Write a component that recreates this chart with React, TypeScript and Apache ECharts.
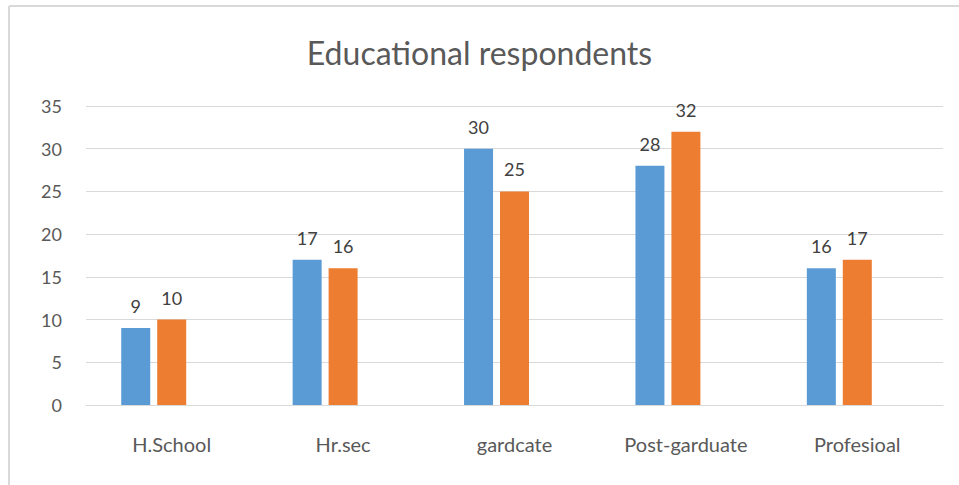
import React, { useEffect, useRef } from "react";
import * as echarts from "echarts";

const categories = ["H.School", "Hr.sec", "gardcate", "Post-garduate", "Profesioal"];
const seriesA = [9, 17, 30, 28, 16];
const seriesB = [10, 16, 25, 32, 17];
const seriesC: (number | string)[] = ["-", "-", "-", "-", "-"];
const yTicks = { min: 0, max: 35, interval: 5 };

const FONT = "Lato, 'Open Sans', sans-serif";

export default function App() {
  const ref = useRef<HTMLDivElement>(null);
  useEffect(() => {
    if (!ref.current) return;
    const chart = echarts.init(ref.current, undefined, { renderer: "svg" });
    const label = {
      show: true,
      position: "top" as const,
      distance: 13,
      color: "#404040",
      fontSize: 18,
      fontFamily: FONT,
    };
    chart.setOption({
      animation: false,
      backgroundColor: "#ffffff",
      textStyle: { fontFamily: FONT },
      title: {
        text: "Educational respondents",
        left: "center",
        top: 31,
        textStyle: { fontSize: 32, fontWeight: "normal", color: "#595959", fontFamily: FONT },
      },
      graphic: [
        {
          type: "line",
          shape: { x1: 9, y1: 6, x2: 959, y2: 6 },
          style: { stroke: "#d9d9d9", lineWidth: 2 },
        },
        {
          type: "line",
          shape: { x1: 9, y1: 6, x2: 9, y2: 485 },
          style: { stroke: "#d9d9d9", lineWidth: 2 },
        },
      ],
      grid: { left: 86, right: 16, top: 106, bottom: 80, containLabel: false },
      xAxis: {
        type: "category",
        data: categories,
        axisLine: { show: true, lineStyle: { color: "#d9d9d9", width: 1 } },
        axisTick: { show: false },
        axisLabel: { color: "#595959", fontSize: 20, margin: 29, fontFamily: FONT },
      },
      yAxis: {
        type: "value",
        min: yTicks.min,
        max: yTicks.max,
        interval: yTicks.interval,
        axisLine: { show: false },
        axisTick: { show: false },
        splitLine: { lineStyle: { color: "#d9d9d9", width: 1 } },
        axisLabel: { color: "#595959", fontSize: 18, margin: 24, fontFamily: FONT },
      },
      series: [
        {
          type: "bar",
          data: seriesA,
          barWidth: 29,
          barGap: "24%",
          itemStyle: { color: "#5b9bd5" },
          label,
        },
        {
          type: "bar",
          data: seriesB,
          barWidth: 29,
          barGap: "24%",
          itemStyle: { color: "#ed7d31" },
          label,
        },
        {
          type: "bar",
          data: seriesC,
          barWidth: 29,
          barGap: "24%",
          itemStyle: { color: "#a5a5a5" },
        },
      ],
    });
    return () => chart.dispose();
  }, []);
  return (
    <div
      ref={ref}
      style={{ position: "fixed", left: 0, top: 0, width: 959, height: 485 }}
    />
  );
}
